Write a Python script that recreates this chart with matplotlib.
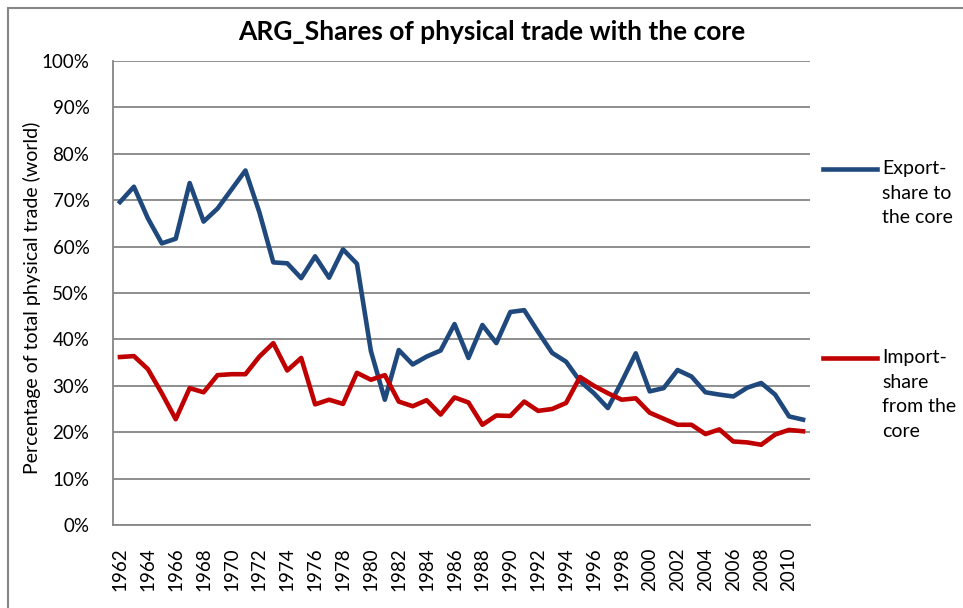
import matplotlib
matplotlib.use("Agg")
import matplotlib.pyplot as plt
from matplotlib.lines import Line2D
from matplotlib.patches import Rectangle
from matplotlib.ticker import FuncFormatter

plt.rcParams['font.family'] = ['Lato', 'DejaVu Sans']

years = list(range(1962, 2012))
export_share = [69.6, 72.9, 66.1, 60.7, 61.7, 73.7, 65.4, 68.2, 72.3, 76.4,
                67.4, 56.6, 56.4, 53.2, 57.9, 53.3, 59.4, 56.3, 37.5, 27.0,
                37.7, 34.6, 36.3, 37.6, 43.3, 36.0, 43.1, 39.2, 45.9, 46.3,
                41.6, 37.1, 35.2, 31.0, 28.4, 25.2, 30.9, 37.0, 28.8, 29.5,
                33.4, 32.0, 28.6, 28.1, 27.7, 29.6, 30.6, 28.1, 23.4, 22.7]
import_share = [36.2, 36.4, 33.6, 28.4, 22.8, 29.5, 28.6, 32.3, 32.5, 32.5,
                36.3, 39.2, 33.3, 36.0, 26.0, 27.0, 26.1, 32.8, 31.3, 32.3,
                26.6, 25.6, 26.9, 23.8, 27.5, 26.4, 21.6, 23.6, 23.5, 26.6,
                24.6, 25.0, 26.3, 31.9, 30.0, 28.4, 27.0, 27.3, 24.2, 22.9,
                21.6, 21.6, 19.6, 20.6, 18.0, 17.8, 17.3, 19.5, 20.5, 20.2]
series_labels = ["Export-\nshare to\nthe core", "Import-\nshare\nfrom the\ncore"]
title = "ARG_Shares of physical trade with the core"
ylabel = "Percentage of total physical trade (world)"

W, H = 963, 608
fig = plt.figure(figsize=(W / 100, H / 100), dpi=100)
fig.patch.set_facecolor('white')

def fx(px):
    return px / W

def fy(py):
    return 1 - py / H

ax = fig.add_axes([fx(113), fy(525), fx(810) - fx(113), fy(61) - fy(525)])

blue = '#1F497D'
red = '#C00000'
grid_c = '#868686'

ax.plot(years, export_share, color=blue, lw=3.3, solid_joinstyle='round', zorder=3)
ax.plot(years, import_share, color=red, lw=3.3, solid_joinstyle='round', zorder=3)

ax.set_xlim(years[0] - 0.5, years[-1] + 0.5)
ax.set_ylim(0, 100)
ax.set_yticks(range(0, 101, 10))
ax.yaxis.set_major_formatter(FuncFormatter(lambda v, p: f"{int(v)}%"))
ax.set_xticks(years[::2])
ax.set_xticklabels([str(y) for y in years[::2]], rotation=90)

ax.grid(axis='y', color=grid_c, lw=1.3)
ax.set_axisbelow(True)
for s in ['top', 'right']:
    ax.spines[s].set_visible(False)
for s in ['left', 'bottom']:
    ax.spines[s].set_color(grid_c)
    ax.spines[s].set_linewidth(1.3)
ax.tick_params(axis='both', length=0, labelsize=13.5, colors='black')
ax.tick_params(axis='y', pad=17)
ax.tick_params(axis='x', pad=16)

fig.text(fx(492), fy(32), title, ha='center', va='center', fontsize=19, fontweight='bold')
fig.text(fx(32), fy(298), ylabel, ha='center', va='center', rotation=90, fontsize=14)

# legend
leg_items = [(169, blue, series_labels[0]), (358, red, series_labels[1])]
for ypx, col, lab in leg_items:
    fig.add_artist(Line2D([fx(823), fx(877)], [fy(ypx), fy(ypx)], color=col, lw=3.3,
                          transform=fig.transFigure))
    fig.text(fx(882), fy(ypx - 9), lab, ha='left', va='top', fontsize=14,
             linespacing=1.55)

# chart border
fig.add_artist(Rectangle((fx(8), -0.5), 2, fy(8) + 0.5, fill=False, edgecolor=grid_c,
                         lw=1.5, transform=fig.transFigure))

fig.savefig('out.png', dpi=100)
